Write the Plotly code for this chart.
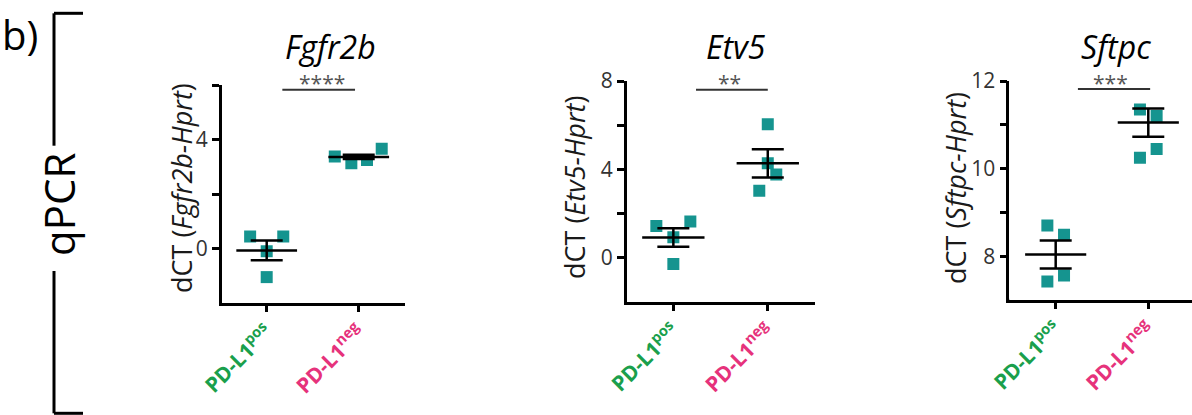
import plotly.graph_objects as go

W, H = 1192, 415
FONT = "Open Sans"

# ---------------- data ----------------
genes = ["Fgfr2b", "Etv5", "Sftpc"]
groups = ["PD-L1<sup>pos</sup>", "PD-L1<sup>neg</sup>"]

fgfr2b_pos = [0.44, 0.44, -0.10, -1.05]
fgfr2b_neg = [3.38, 3.13, 3.25, 3.66]
etv5_pos = [1.43, 1.63, 0.92, -0.29]
etv5_neg = [6.04, 4.27, 3.76, 3.03]
sftpc_pos = [8.70, 8.49, 7.56, 7.42]
sftpc_neg = [11.35, 11.20, 10.45, 10.25]

# mean and SEM as drawn
fgfr2b_mean = [-0.07, 3.36]
fgfr2b_sem = [0.36, 0.08]
etv5_mean = [0.91, 4.27]
etv5_sem = [0.42, 0.64]
sftpc_mean = [8.04, 11.05]
sftpc_sem = [0.32, 0.32]

significance = ["****", "**", "***"]

# horizontal scatter offsets of the dots (category units)
jit_fgfr2b_pos = [-0.18, 0.18, 0.0, 0.0]
jit_fgfr2b_neg = [-0.26, -0.08, 0.09, 0.25]
jit_etv5_pos = [-0.18, 0.18, 0.0, 0.0]
jit_etv5_neg = [0.0, 0.0, 0.09, -0.09]
jit_sftpc_pos = [-0.09, 0.09, 0.09, -0.09]
jit_sftpc_neg = [-0.09, 0.09, 0.09, -0.09]

# ---------------- layout helpers ----------------
def px(x):
    return x / W

def py(y):
    return 1 - y / H

TEAL = "#15948f"
GREEN = "#1a9f4c"
PINK = "#e6327b"

panels = [
    dict(pos=fgfr2b_pos, neg=fgfr2b_neg, jp=jit_fgfr2b_pos, jn=jit_fgfr2b_neg,
         mean=fgfr2b_mean, sem=fgfr2b_sem,
         xdom=[px(221.7), px(405)], xr=[-0.489, 1.503], step=92,
         ydom=[py(303), py(85)], yr=[-2, 6],
         yt=[0, 2, 4, 6], ytt=["0", "", "4", ""],
         title_x=331, ytitle_x=181, star_x=322, sig=[0.17, 0.96, 5.83]),
    dict(pos=etv5_pos, neg=etv5_neg, jp=jit_etv5_pos, jn=jit_etv5_neg,
         mean=etv5_mean, sem=etv5_sem,
         xdom=[px(626.7), px(815)], xr=[-0.494, 1.5], step=94.4,
         ydom=[py(301.7), py(81)], yr=[-2, 8],
         yt=[0, 2, 4, 6, 8], ytt=["0", "", "4", "", "8"],
         title_x=736, ytitle_x=574, star_x=729, sig=[0.24, 1.0, 7.6]),
    dict(pos=sftpc_pos, neg=sftpc_neg, jp=jit_sftpc_pos, jn=jit_sftpc_neg,
         mean=sftpc_mean, sem=sftpc_sem,
         xdom=[px(1009.3), 1.0], xr=[-0.501, 1.472], step=92.6,
         ydom=[py(300), py(81)], yr=[7, 12],
         yt=[8, 9, 10, 11, 12], ytt=["8", "", "10", "", "12"],
         title_x=1116, ytitle_x=955, star_x=1110, sig=[0.24, 1.02, 11.82]),
]

fig = go.Figure()
annotations = []
shapes = []

ticktext_x = [
    f"<span style='color:{GREEN}'><b>{groups[0]}</b></span>",
    f"<span style='color:{PINK}'><b>{groups[1]}</b></span>",
]

for k, p in enumerate(panels):
    n = "" if k == 0 else str(k + 1)
    xa, ya = "x" + n, "y" + n
    # dots
    xs = [0 + j for j in p["jp"]] + [1 + j for j in p["jn"]]
    ys = p["pos"] + p["neg"]
    fig.add_trace(go.Scatter(
        x=xs, y=ys, mode="markers", xaxis=xa, yaxis=ya,
        marker=dict(symbol="square", size=12, color=TEAL, line=dict(width=0)),
        showlegend=False, hoverinfo="skip"))
    # mean lines
    mx, my = [], []
    for i, m in enumerate(p["mean"]):
        mx += [i - 0.33, i + 0.33, None]
        my += [m, m, None]
    fig.add_trace(go.Scatter(
        x=mx, y=my, mode="lines", xaxis=xa, yaxis=ya,
        line=dict(color="black", width=2.5), showlegend=False, hoverinfo="skip"))
    # SEM error bars
    fig.add_trace(go.Scatter(
        x=[0, 1], y=p["mean"], mode="markers", xaxis=xa, yaxis=ya,
        marker=dict(size=1, color="rgba(0,0,0,0)"),
        error_y=dict(type="data", array=p["sem"], visible=True,
                     color="black", thickness=2.5, width=16),
        showlegend=False, hoverinfo="skip"))

    axis_common = dict(showline=True, linecolor="black", linewidth=2.6,
                       ticks="outside", tickcolor="black", tickwidth=2.6,
                       showgrid=False, zeroline=False, automargin=False)
    fig.update_layout(**{
        ("xaxis" + n): dict(domain=p["xdom"], range=p["xr"], anchor=ya,
                            tickvals=[0, 1], ticktext=ticktext_x, tickangle=-45,
                            ticklen=6, tickfont=dict(family=FONT, size=21),
                            **axis_common),
        ("yaxis" + n): dict(domain=p["ydom"], range=p["yr"], anchor=xa,
                            tickvals=p["yt"], ticktext=p["ytt"], ticklen=7,
                            tickfont=dict(family=FONT, size=21, color="#333333"),
                            **axis_common),
    })

    # x-axis line stub extending left of the y-axis (GraphPad style)
    shapes.append(dict(type="line", xref=xa, yref=ya,
                       x0=p["xr"][0] - 8 / p["step"], x1=p["xr"][0],
                       y0=p["yr"][0], y1=p["yr"][0],
                       line=dict(color="black", width=2.6)))

    # gene title
    annotations.append(dict(
        text=f"<i>{genes[k]}</i>", x=px(p["title_x"]), y=py(47),
        xref="paper", yref="paper", xanchor="center", yanchor="middle",
        showarrow=False, font=dict(family=FONT, size=32, color="black")))
    # y-axis title
    annotations.append(dict(
        text=f"dCT (<i>{genes[k]}-Hprt</i>)", x=px(p["ytitle_x"]), y=py(188),
        xref="paper", yref="paper", xanchor="center", yanchor="middle",
        textangle=-90, showarrow=False,
        font=dict(family=FONT, size=27, color="#1a1a1a")))
    # significance stars
    annotations.append(dict(
        text=significance[k], x=px(p["star_x"]), y=py(83),
        xref="paper", yref="paper", xanchor="center", yanchor="middle",
        showarrow=False, font=dict(family=FONT, size=21, color="#555555")))
    x0, x1, yl = p["sig"]
    shapes.append(dict(type="line", xref=xa, yref=ya, x0=x0, x1=x1, y0=yl, y1=yl,
                       line=dict(color="#333333", width=2)))

# panel label and bracket
annotations.append(dict(
    text="b)", x=0, y=py(35), xref="paper", yref="paper",
    xanchor="left", yanchor="middle", showarrow=False,
    font=dict(family=FONT, size=40, color="black")))
annotations.append(dict(
    text="qPCR", x=px(59), y=py(205), xref="paper", yref="paper",
    xanchor="center", yanchor="middle", textangle=-90, showarrow=False,
    font=dict(family=FONT, size=42, color="black")))

for seg in [(54, 13.3, 54, 145.7), (54, 271, 54, 413.3),
            (54, 13.3, 83, 13.3), (54, 413.3, 83, 413.3)]:
    shapes.append(dict(type="line", xref="paper", yref="paper",
                       x0=px(seg[0]), y0=py(seg[1]), x1=px(seg[2]), y1=py(seg[3]),
                       line=dict(color="black", width=3)))

fig.update_layout(
    width=W, height=H, margin=dict(l=0, r=0, t=0, b=0, autoexpand=False),
    paper_bgcolor="white", plot_bgcolor="white",
    annotations=annotations, shapes=shapes, showlegend=False,
    font=dict(family=FONT),
)

fig.write_html("out.html")
